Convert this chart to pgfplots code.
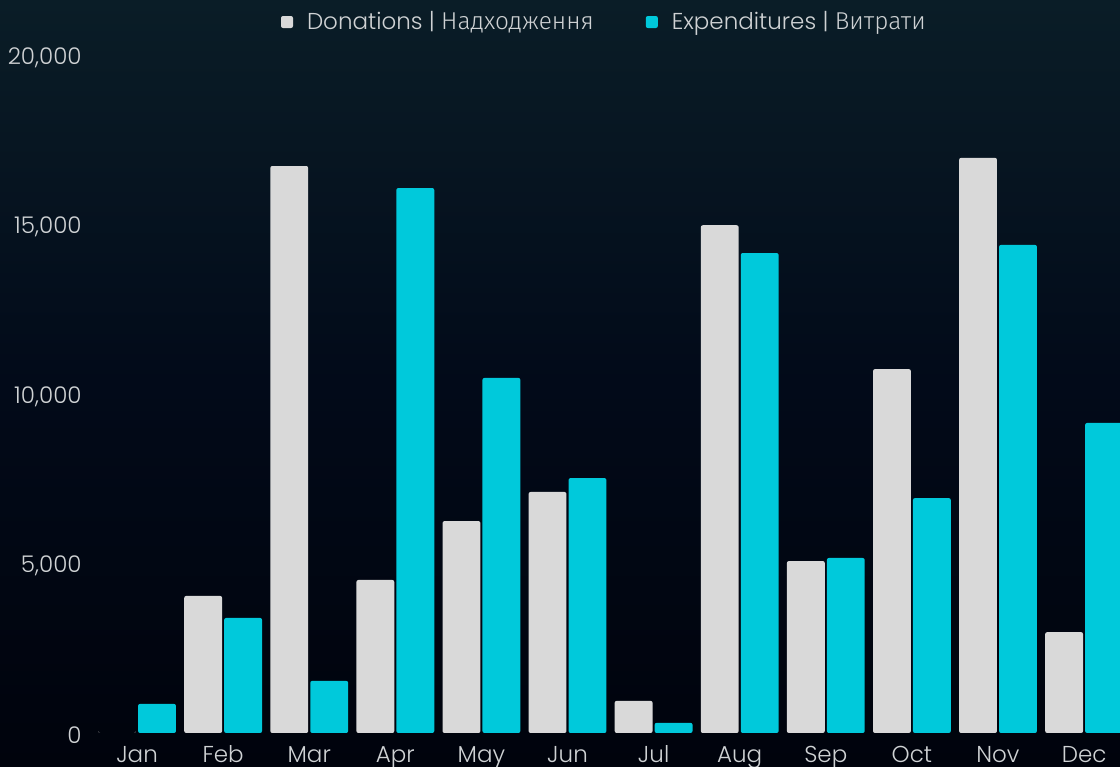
\documentclass[border=0pt]{standalone}
\usepackage{pgfplots}
\pgfplotsset{compat=1.18}
\usepackage{fontspec}
\setmainfont{Poppins}[UprightFont={* Light}]
\newfontfamily\cyr{Fira Sans}[UprightFont={* Light}, Scale=1.06]
\definecolor{donc}{HTML}{D9D9D9}
\definecolor{expc}{HTML}{00C9DB}
\definecolor{txtc}{HTML}{CFD2D4}
\definecolor{bgtop}{HTML}{0A1D27}
\definecolor{bgmid}{HTML}{020A19}
\definecolor{bgbot}{HTML}{00030C}

\pgfplotstableread{
m  don   exp
0  0     860
1  4050  3400
2  16750 1540
3  4520  16100
4  6260  10490
5  7120  7530
6  950   300
7  15000 14180
8  5080  5170
9  10750 6940
10 16990 14420
11 2980  9160
}\monthly

\begin{document}
\begin{tikzpicture}
\useasboundingbox (0,0) rectangle (560bp,383.5bp);
\shade[top color=bgtop, bottom color=bgbot, middle color=bgmid] (0,0) rectangle (560bp,383.5bp);
\begin{axis}[
  at={(47bp,17bp)}, anchor=south west,
  width=513bp, height=338.5bp, scale only axis,
  axis line style={draw=none},
  ymin=0, ymax=20000,
  xmin=-0.5, xmax=11.417,
  ybar, bar width=0.44,
  ytick={0,5000,10000,15000,20000},
  scaled y ticks=false,
  xtick=data,
  xticklabels={Jan,Feb,Mar,Apr,May,Jun,Jul,Aug,Sep,Oct,Nov,Dec},
  /pgf/number format/.cd, 1000 sep={,}, assume math mode=true,
  /pgfplots/.cd,
  tick label style={font=\fontsize{11.5bp}{13bp}\selectfont, text=txtc},
  yticklabel style={anchor=east, inner sep=0pt, xshift=-6bp, yshift=-1bp},
  xticklabel style={anchor=base, inner sep=0pt, yshift=-14.5bp, text depth=0pt},
  major tick length=0pt,
  tick style={draw=none},
  legend columns=2,
  legend style={draw=none, fill=none, text=txtc,
    font=\fontsize{11.5bp}{13bp}\selectfont,
    at={(0.4985,1.0502)}, anchor=center,
    /tikz/every odd column/.append style={column sep=5bp},
    /tikz/every even column/.append style={column sep=24bp}},
  legend cell align=left,
]
\addplot[fill=donc, draw=none, rounded corners=1bp, bar shift=-0.232,
  legend image code/.code={\fill[donc] (0bp,-3bp) rectangle (6bp,3bp);}]
  table[x=m, y=don] {\monthly};
\addlegendentry{Donations | {\cyr Надходження}}
\addplot[fill=expc, draw=none, rounded corners=1bp, bar shift=0.232,
  legend image code/.code={\fill[expc] (0bp,-3bp) rectangle (6bp,3bp);}]
  table[x=m, y=exp] {\monthly};
\addlegendentry{Expenditures | {\cyr Витрати}}
\end{axis}
\end{tikzpicture}
\end{document}
